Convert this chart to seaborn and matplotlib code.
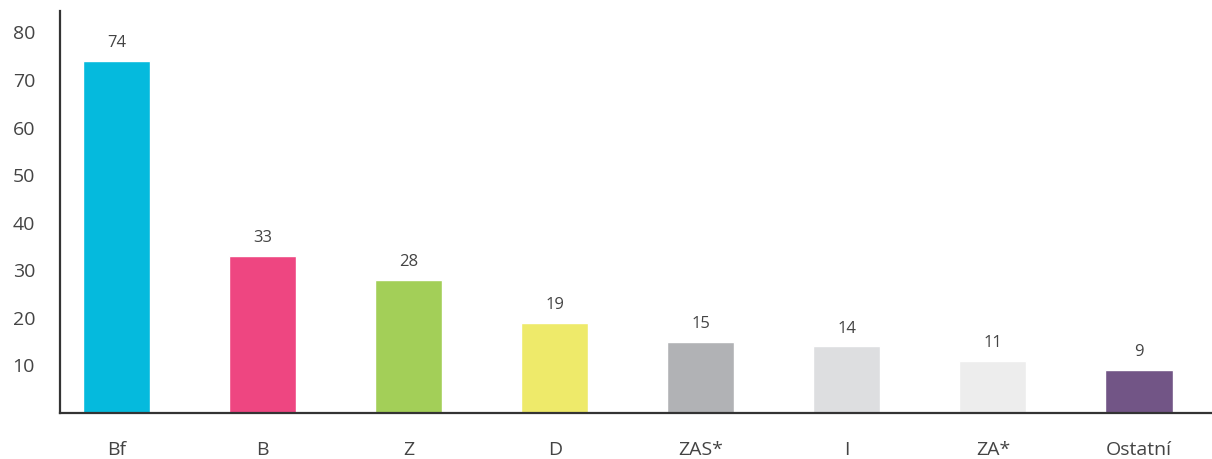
import pandas as pd
import matplotlib
matplotlib.use('Agg')
import matplotlib.pyplot as plt
import seaborn as sns

categories = ['Bf', 'B', 'Z', 'D', 'ZAS*', 'I', 'ZA*', 'Ostatní']
values = [74, 33, 28, 19, 15, 14, 11, 9]
colors = ['#05BADD', '#EE4681', '#A3CF58', '#EEEA6A', '#B1B2B5', '#DDDEE0', '#EDEDED', '#725586']
yticks = [10, 20, 30, 40, 50, 60, 70, 80]

sns.set_style('white')
plt.rcParams['font.family'] = ['Open Sans', 'DejaVu Sans']

data = pd.DataFrame({'cat': categories, 'val': values})

fig = plt.figure(figsize=(12.12, 4.59), dpi=100)
ax = fig.add_axes([60 / 1212, 46 / 459, 1 - 60 / 1212, (413 - 11) / 459])

sns.barplot(data=data, x='cat', y='val', hue='cat', palette=colors,
            width=0.46, legend=False, saturation=1, ax=ax)

# value labels above the bars
for i, v in enumerate(values):
    ax.annotate(str(v), (i, v), xytext=(0, 7), textcoords='offset points',
                ha='center', va='bottom', fontsize=12, color='#444444')

ax.set_ylim(0, 84.5)
ax.set_xlim(-0.387, 7.5)
ax.set_yticks(yticks)
ax.set_xlabel('')
ax.set_ylabel('')
ax.tick_params(axis='y', length=0, pad=18, labelsize=14, labelcolor='#444444')
ax.tick_params(axis='x', length=0, pad=20, labelsize=14, labelcolor='#444444')

for side in ['top', 'right']:
    ax.spines[side].set_visible(False)
for side in ['left', 'bottom']:
    ax.spines[side].set_color('#333333')
    ax.spines[side].set_linewidth(1.6)

fig.savefig('out.png', dpi=100)
